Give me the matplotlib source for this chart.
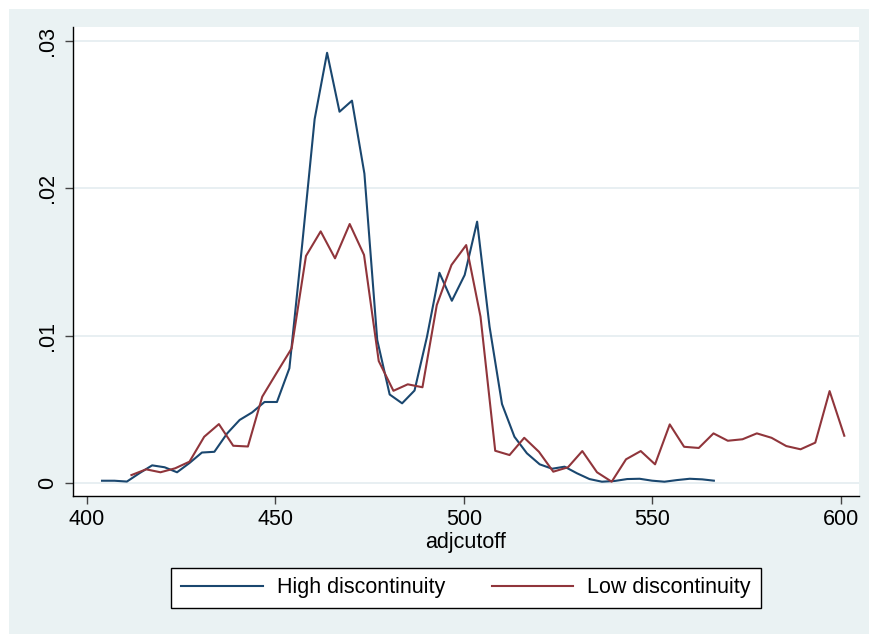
import matplotlib
matplotlib.use("Agg")
import matplotlib.pyplot as plt
from matplotlib.patches import Rectangle

plt.rcParams['font.family'] = ['Liberation Sans', 'DejaVu Sans']

# high discontinuity series
x_high = [404.0, 407.3, 410.6, 414.0, 417.3, 420.6, 423.9, 427.2, 430.5, 433.8,
          437.2, 440.5, 443.8, 447.1, 450.4, 453.7, 457.1, 460.4, 463.7, 467.0,
          470.3, 473.6, 477.0, 480.3, 483.6, 486.9, 490.2, 493.5, 496.8, 500.2,
          503.5, 506.8, 510.1, 513.4, 516.7, 520.1, 523.4, 526.7, 530.0, 533.3,
          536.6, 540.0, 543.3, 546.6, 549.9, 553.2, 556.5, 559.9, 563.2, 566.3]
y_high = [0.156, 0.156, 0.10, 0.68, 1.20, 1.07, 0.73, 1.36, 2.07, 2.12,
          3.37, 4.28, 4.79, 5.50, 5.50, 7.79, 16.2, 24.7, 29.2, 25.2,
          25.95, 21.0, 9.71, 6.01, 5.41, 6.28, 9.93, 14.27, 12.37, 14.12,
          17.74, 10.61, 5.36, 3.14, 2.02, 1.27, 0.97, 1.11, 0.66, 0.27,
          0.09, 0.14, 0.27, 0.29, 0.16, 0.09, 0.20, 0.29, 0.25, 0.16]

# low discontinuity series
x_low = [411.8, 415.7, 419.5, 423.4, 427.2, 431.1, 435.0, 438.8, 442.7, 446.5,
         450.4, 454.3, 458.1, 462.0, 465.8, 469.7, 473.5, 477.4, 481.3, 485.1,
         489.0, 492.8, 496.7, 500.6, 504.4, 508.3, 512.1, 516.0, 519.9, 523.7,
         527.6, 531.4, 535.3, 539.2, 543.0, 546.9, 550.7, 554.6, 558.4, 562.3,
         566.2, 570.0, 573.9, 577.7, 581.6, 585.5, 589.3, 593.2, 597.0, 600.9]
y_low = [0.54, 0.93, 0.73, 1.00, 1.45, 3.14, 4.00, 2.53, 2.48, 5.86,
         7.51, 9.14, 15.41, 17.08, 15.25, 17.58, 15.48, 8.28, 6.26, 6.70,
         6.50, 12.08, 14.80, 16.15, 11.29, 2.19, 1.90, 3.07, 2.12, 0.77,
         1.07, 2.17, 0.73, 0.09, 1.61, 2.17, 1.27, 3.98, 2.46, 2.38,
         3.37, 2.87, 2.97, 3.37, 3.07, 2.51, 2.29, 2.74, 6.24, 3.21]

y_high = [v / 1000 for v in y_high]
y_low = [v / 1000 for v in y_low]

yticks = [0, 0.01, 0.02, 0.03]
ytick_labels = ['0', '.01', '.02', '.03']
xticks = [400, 450, 500, 550, 600]

W, H = 870, 634
fig = plt.figure(figsize=(W / 100, H / 100), dpi=100, facecolor='white')
bg = Rectangle((9 / W, 0), 1 - 9 / W, 1 - 9 / H, transform=fig.transFigure,
               facecolor='#eaf2f3', edgecolor='none', zorder=-10)
fig.patches.append(bg)

ax = fig.add_axes([73 / W, 1 - 496 / H, (859 - 73) / W, (496 - 27) / H])
ax.set_zorder(1)
ax.set_facecolor('white')

ax.plot(x_high, y_high, color='#1a476f', lw=1.5, label='High discontinuity')
ax.plot(x_low, y_low, color='#90353b', lw=1.5, label='Low discontinuity')

ax.set_xlim(396.3, 604.8)
ax.set_ylim(-0.00088, 0.03095)
ax.set_yticks(yticks)
ax.set_yticklabels(ytick_labels, rotation=90, va='center')
ax.set_xticks(xticks)
ax.grid(axis='y', color='#e6eef1', lw=1.3)
ax.set_axisbelow(True)

for s in ['top', 'right']:
    ax.spines[s].set_visible(False)
for s in ['left', 'bottom']:
    ax.spines[s].set_color('black')
    ax.spines[s].set_linewidth(1.0)

ax.tick_params(axis='both', labelsize=15.5, length=5.5, width=1, color='#444444', pad=4)
ax.tick_params(axis='y', pad=5)
ax.set_xlabel('adjcutoff', fontsize=15.5, labelpad=1)

leg = ax.legend(loc='center', bbox_to_anchor=(0.5, -0.196), ncol=2, fontsize=15.5,
                frameon=True, fancybox=False, edgecolor='black', framealpha=1,
                handlelength=3.8, handletextpad=0.65, columnspacing=2.15,
                borderpad=0.45)
leg.get_frame().set_linewidth(1.0)

fig.savefig('out.png', dpi=100, facecolor=fig.get_facecolor())
